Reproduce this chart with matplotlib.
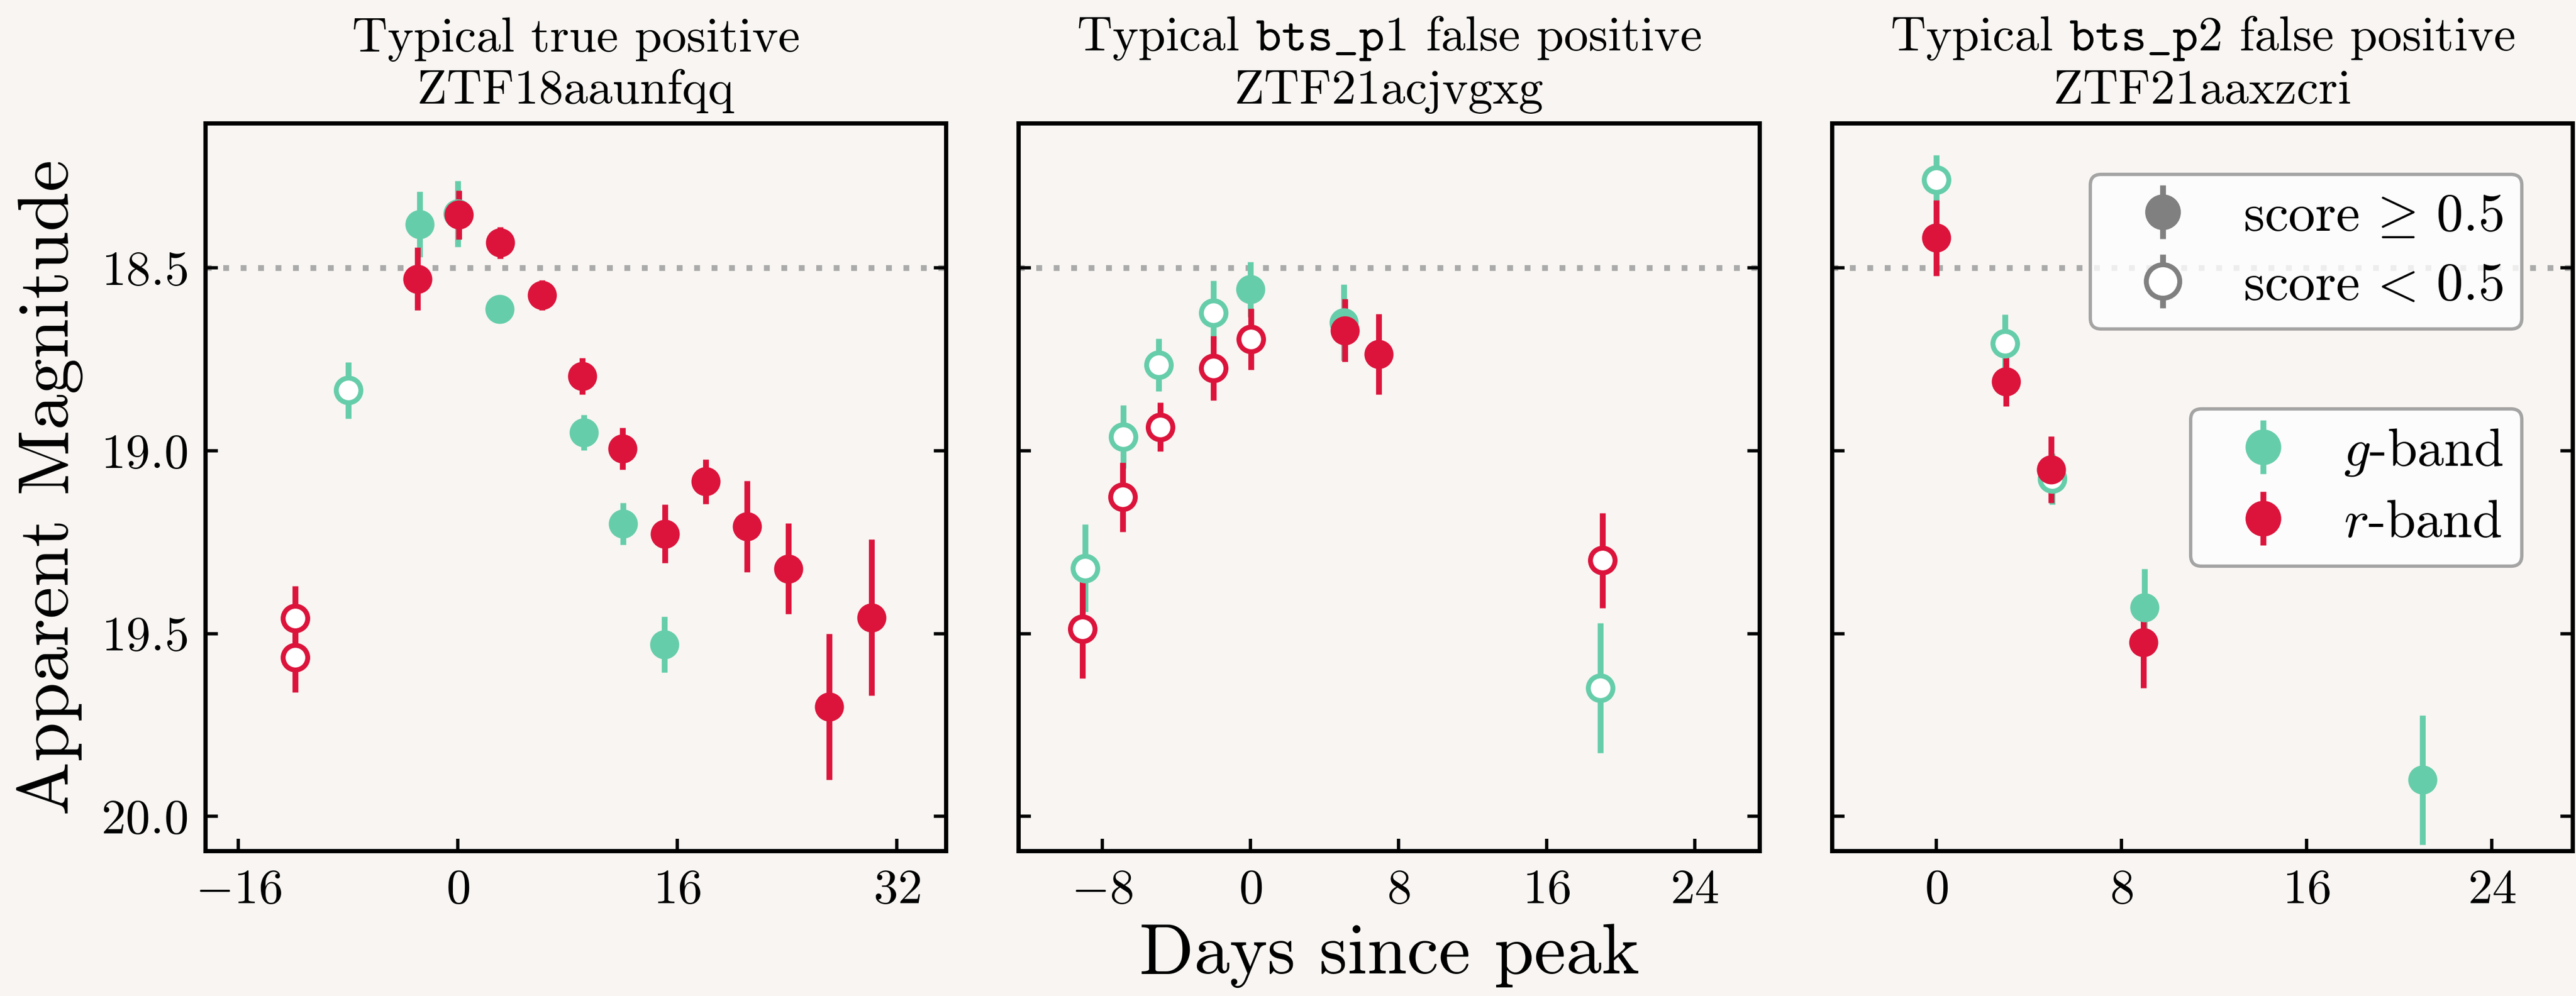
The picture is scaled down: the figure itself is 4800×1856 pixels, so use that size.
import matplotlib
matplotlib.use("Agg")
import matplotlib.pyplot as plt
import numpy as np

plt.rcParams['font.family'] = 'serif'
plt.rcParams['font.serif'] = ['cmr10']
plt.rcParams['mathtext.fontset'] = 'cm'
plt.rcParams['axes.formatter.use_mathtext'] = True

bg = '#f8f5f2'
g_col = '#66cdaa'
r_col = '#dc143c'

# panel data: days since peak, mag, err, score>=0.5
titles = ['Typical true positive\nZTF18aaunfqq',
          'Typical $\\mathtt{bts\\_p1}$ false positive\nZTF21acjvgxg',
          'Typical $\\mathtt{bts\\_p2}$ false positive\nZTF21aaxzcri']

p1_g_t = [-7.98, -2.8, 0.0, 3.04, 9.17, 12.04, 15.05]
p1_g_mag = [18.835, 18.381, 18.352, 18.613, 18.95, 19.20, 19.53]
p1_g_err = [0.077, 0.09, 0.09, 0.03, 0.048, 0.057, 0.077]
p1_g_hi = [0, 1, 1, 1, 1, 1, 1]
p1_r_t = [-11.86, -11.86, -2.94, 0.07, 3.08, 6.12, 9.06, 12.0, 15.08, 18.05, 21.06, 24.07, 27.05, 30.16]
p1_r_mag = [19.458, 19.565, 18.53, 18.355, 18.431, 18.574, 18.796, 18.994, 19.227, 19.084, 19.207, 19.323, 19.70, 19.456]
p1_r_err = [0.088, 0.095, 0.086, 0.067, 0.043, 0.041, 0.05, 0.057, 0.08, 0.061, 0.125, 0.124, 0.2, 0.213]
p1_r_hi = [0, 0, 1, 1, 1, 1, 1, 1, 1, 1, 1, 1, 1, 1]

p2_g_t = [-8.92, -6.85, -4.94, -1.99, 0.0, 5.05, 18.91]
p2_g_mag = [19.321, 18.962, 18.765, 18.623, 18.559, 18.649, 19.649]
p2_g_err = [0.12, 0.086, 0.072, 0.088, 0.075, 0.104, 0.177]
p2_g_hi = [0, 0, 0, 0, 1, 1, 0]
p2_r_t = [-9.05, -6.9, -4.86, -1.99, 0.05, 5.1, 6.93, 19.02]
p2_r_mag = [19.488, 19.127, 18.935, 18.774, 18.695, 18.671, 18.736, 19.30]
p2_r_err = [0.135, 0.095, 0.067, 0.088, 0.084, 0.086, 0.11, 0.13]
p2_r_hi = [0, 0, 0, 0, 0, 1, 1, 0]

p3_g_t = [0.0, 2.97, 5.0, 9.0, 21.0]
p3_g_mag = [18.259, 18.707, 19.077, 19.428, 19.90]
p3_g_err = [0.068, 0.08, 0.07, 0.105, 0.177]
p3_g_hi = [0, 0, 0, 1, 1]
p3_r_t = [0.0, 3.01, 4.96, 8.95]
p3_r_mag = [18.418, 18.811, 19.051, 19.524]
p3_r_err = [0.103, 0.068, 0.091, 0.125]
p3_r_hi = [1, 1, 1, 1]

panels = [
    [(p1_g_t, p1_g_mag, p1_g_err, p1_g_hi), (p1_r_t, p1_r_mag, p1_r_err, p1_r_hi)],
    [(p2_g_t, p2_g_mag, p2_g_err, p2_g_hi), (p2_r_t, p2_r_mag, p2_r_err, p2_r_hi)],
    [(p3_g_t, p3_g_mag, p3_g_err, p3_g_hi), (p3_r_t, p3_r_mag, p3_r_err, p3_r_hi)],
]
xlims = [(-18.4, 35.6), (-12.5, 27.5), (-4.5, 27.5)]
xticks = [[-16, 0, 16, 32], [-8, 0, 8, 16, 24], [0, 8, 16, 24]]

ms = 11
elw = 2.6


def plot_band(ax, t, mag, err, hi, col):
    t = np.array(t)
    mag = np.array(mag)
    err = np.array(err)
    hi = np.array(hi, dtype=bool)
    if hi.any():
        ax.errorbar(t[hi], mag[hi], yerr=err[hi], fmt='o', color=col, ms=ms,
                    elinewidth=elw, mew=2)
    if (~hi).any():
        ax.errorbar(t[~hi], mag[~hi], yerr=err[~hi], fmt='o', color=col, ms=ms,
                    mfc='white', mec=col, elinewidth=elw, mew=2.2)


fig, axes = plt.subplots(1, 3, figsize=(16, 6.1867), dpi=300, sharey=True)
fig.patch.set_facecolor(bg)
fig.subplots_adjust(left=0.0798, right=0.99875, bottom=0.1455, top=0.876, wspace=0.098)

for i, ax in enumerate(axes):
    ax.set_facecolor(bg)
    ax.axhline(18.5, color='#aaaaaa', ls=(0, (1, 2)), lw=2.6, zorder=0)
    (g, r) = panels[i]
    plot_band(ax, *g, g_col)
    plot_band(ax, *r, r_col)
    ax.set_xlim(xlims[i])
    ax.set_xticks(xticks[i])
    ax.set_ylim(20.095, 18.105)
    ax.set_yticks([18.5, 19.0, 19.5, 20.0])
    ax.set_title(titles[i], fontsize=22, pad=9)
    ax.tick_params(direction='in', length=5.5, width=1.5, labelsize=22, pad=8,
                   right=True, top=False)
    for s in ax.spines.values():
        s.set_linewidth(1.9)

axes[0].set_ylabel('Apparent Magnitude', fontsize=32, labelpad=8)
axes[1].set_xlabel('Days since peak', fontsize=32, labelpad=5)

# legends
ax3 = axes[2]
h_hi = ax3.errorbar([np.nan], [np.nan], yerr=[np.nan], fmt='o', color='gray', ms=ms,
                    elinewidth=elw)
h_lo = ax3.errorbar([np.nan], [np.nan], yerr=[np.nan], fmt='o', color='gray', ms=ms,
                    mfc='white', mec='gray', elinewidth=elw, mew=2.2)
h_g = ax3.errorbar([np.nan], [np.nan], yerr=[np.nan], fmt='o', color=g_col, ms=ms,
                   elinewidth=elw)
h_r = ax3.errorbar([np.nan], [np.nan], yerr=[np.nan], fmt='o', color=r_col, ms=ms,
                   elinewidth=elw)

leg_kw = dict(loc='upper right', borderaxespad=0, fontsize=24, markerscale=1.36,
              handlelength=2.0, handletextpad=0.5, labelspacing=0.4, borderpad=0.35,
              edgecolor='#8f8f8f')
leg1 = ax3.legend([h_hi, h_lo], ['score$\\,\\geq\\,0.5$', 'score$\\,<\\,0.5$'],
                  bbox_to_anchor=(0.931, 0.930), **leg_kw)
leg1.get_frame().set_linewidth(1.5)
ax3.add_artist(leg1)
leg2 = ax3.legend([h_g, h_r], ['$g$-band', '$r$-band'],
                  bbox_to_anchor=(0.931, 0.608), **leg_kw)
leg2.get_frame().set_linewidth(1.5)

plt.savefig('out.png', dpi=300, facecolor=bg)
